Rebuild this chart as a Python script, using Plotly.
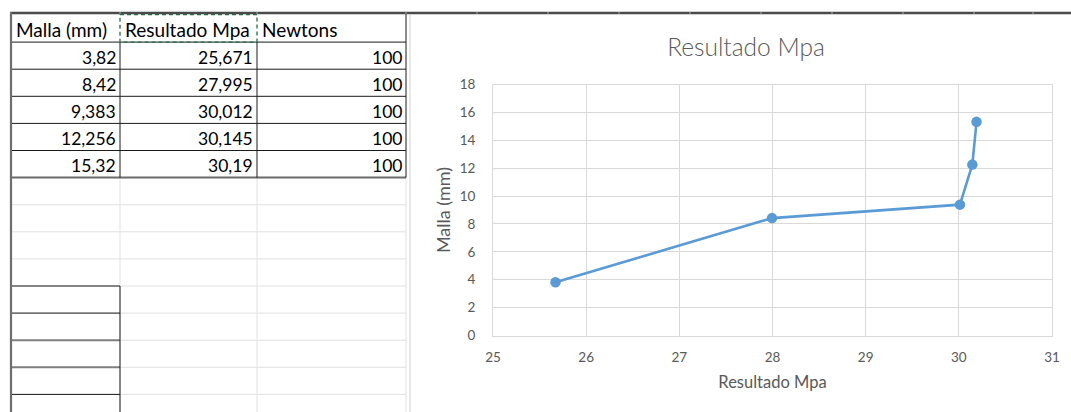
import plotly.graph_objects as go

# ---- worksheet values -------------------------------------------------------
headers = ["Malla (mm)", "Resultado Mpa", "Newtons"]
malla_mm = [3.82, 8.42, 9.383, 12.256, 15.32]
resultado_mpa = [25.671, 27.995, 30.012, 30.145, 30.19]
newtons = [100, 100, 100, 100, 100]

# ---- chart ticks --------------------------------------------------------------
x_ticks = [25, 26, 27, 28, 29, 30, 31]
y_ticks = [0, 2, 4, 6, 8, 10, 12, 14, 16, 18]

# ---- page geometry (screen pixels) -------------------------------------------
W, H = 1071, 412
COL_EDGES = [11, 120, 257, 406]
ROW_H = 27.1
N_ROWS = 15
ROW_EDGES = [14] + [15 + ROW_H * k for k in range(1, N_ROWS + 1)]
HEADER_SEPARATORS = [120, 257, 406, 477, 548, 619, 690, 761, 832, 903, 974, 1033]
CHART_LEFT = 410
PLOT_X0, PLOT_X1 = 493, 1052
PLOT_Y0, PLOT_Y1 = 84.5, 335.5

SHEET_FONT = "Lato, 'Open Sans', sans-serif"
HEADER_SIZE = 19
VALUE_SIZE = 17.5
CHART_GREY = "#595959"
GRID_GREY = "#d9d9d9"
SHEET_GRID = "#e1e1e1"


def fmt(v):
    """Spreadsheet-style number with a decimal comma."""
    return str(v).replace(".", ",")


def seg(x0, y0, x1, y1, color, width=1, dash=None):
    line = dict(color=color, width=width)
    if dash:
        line["dash"] = dash
    return dict(type="line", xref="x", yref="y", x0=x0, y0=y0, x1=x1, y1=y1,
                line=line, layer="above")


fig = go.Figure()

# ---- worksheet grid -------------------------------------------------------------
shapes = []
n_data = len(malla_mm)
data_bottom = ROW_EDGES[n_data + 1]

# faint gridlines below the filled block
for r in range(n_data + 2, N_ROWS + 1):
    shapes.append(seg(COL_EDGES[0], ROW_EDGES[r], COL_EDGES[-1], ROW_EDGES[r], SHEET_GRID))
for c in COL_EDGES[1:]:
    shapes.append(seg(c, data_bottom, c, H, SHEET_GRID))

# bordered block holding header + values
for r in range(1, n_data + 1):
    shapes.append(seg(COL_EDGES[0], ROW_EDGES[r], COL_EDGES[-1], ROW_EDGES[r], "#1a1a1a"))
shapes.append(seg(COL_EDGES[0], data_bottom, COL_EDGES[-1], data_bottom, "#6a6a6a", 2))
for c in COL_EDGES[1:3]:
    shapes.append(seg(c, ROW_EDGES[1], c, data_bottom, "#1a1a1a"))
shapes.append(seg(COL_EDGES[-1], ROW_EDGES[0], COL_EDGES[-1], data_bottom, "#1a1a1a"))

# bordered cells further down column A
lower_start = 10
for r in range(lower_start, N_ROWS):
    grey = r in (12, 13)
    shapes.append(seg(COL_EDGES[0], ROW_EDGES[r], COL_EDGES[1], ROW_EDGES[r],
                      "#7f7f7f" if grey else "#1a1a1a", 2 if grey else 1))
shapes.append(seg(COL_EDGES[1], ROW_EDGES[lower_start], COL_EDGES[1], H, "#1a1a1a"))

# copy marquee around the "Resultado Mpa" header cell
shapes.append(dict(type="rect", xref="x", yref="y",
                   x0=COL_EDGES[1], x1=COL_EDGES[2], y0=ROW_EDGES[0] + 0.5, y1=ROW_EDGES[1],
                   line=dict(color="#217346", width=1.3, dash="4px,3px"), layer="above"))

# frame: header bar across the top and row-header edge on the left
shapes.append(seg(10, 13, W, 13, "#4a4a4a", 2.4))
for s in HEADER_SEPARATORS:
    shapes.append(seg(s, 12, s, 14, "#9a9a9a", 1.2))
shapes.append(seg(11, 12, 11, H, "#6e6e6e", 2.2))

# embedded chart frame
shapes.append(seg(CHART_LEFT, 14, CHART_LEFT, H, GRID_GREY, 1.2))

# ---- cell texts -------------------------------------------------------------------
annotations = []
header_mid = (ROW_EDGES[0] + ROW_EDGES[1]) / 2 + 1
for c, label in enumerate(headers):
    annotations.append(dict(xref="x", yref="y", x=COL_EDGES[c] + 2.5, y=header_mid,
                            text=label, showarrow=False, xanchor="left", yanchor="middle",
                            font=dict(family=SHEET_FONT, size=HEADER_SIZE, color="#000000")))
columns = [malla_mm, resultado_mpa, newtons]
for c, values in enumerate(columns):
    for r, v in enumerate(values):
        mid = (ROW_EDGES[r + 1] + ROW_EDGES[r + 2]) / 2 + 1.5
        annotations.append(dict(xref="x", yref="y", x=COL_EDGES[c + 1] - 2, y=mid,
                                text=fmt(v), showarrow=False, xanchor="right", yanchor="middle",
                                font=dict(family=SHEET_FONT, size=VALUE_SIZE, color="#000000")))

# ---- scatter chart ----------------------------------------------------------------
fig.add_trace(go.Scatter(
    x=resultado_mpa, y=malla_mm, xaxis="x2", yaxis="y2",
    mode="lines+markers",
    line=dict(color="#5b9bd5", width=2.6),
    marker=dict(color="#5b9bd5", size=10.5),
    hoverinfo="skip", showlegend=False,
))

fig.update_layout(
    width=W, height=H,
    margin=dict(l=0, r=0, t=0, b=0, pad=0, autoexpand=False),
    paper_bgcolor="white",
    plot_bgcolor="rgba(0,0,0,0)",
    showlegend=False,
    shapes=shapes,
    annotations=annotations,
    title=dict(text="Resultado Mpa", x=746 / W, y=1 - 47 / H, xref="paper", yref="paper",
               xanchor="center", yanchor="middle", automargin=False,
               font=dict(family=SHEET_FONT, size=24.5, color=CHART_GREY, weight=300)),
    # worksheet canvas, measured in pixels
    xaxis=dict(domain=[0, 1], range=[0, W], visible=False, fixedrange=True),
    yaxis=dict(domain=[0, 1], range=[H, 0], visible=False, fixedrange=True),
    # chart axes
    xaxis2=dict(
        domain=[PLOT_X0 / W, PLOT_X1 / W], anchor="y2", range=[x_ticks[0], x_ticks[-1]],
        tickvals=x_ticks, showgrid=True, gridcolor=GRID_GREY, gridwidth=1,
        showline=True, linecolor=GRID_GREY, linewidth=1, mirror=True, zeroline=False,
        ticks="", ticklabelstandoff=9, automargin=False,
        tickfont=dict(family=SHEET_FONT, size=13.5, color=CHART_GREY),
        title=dict(text="Resultado Mpa", standoff=12,
                   font=dict(family=SHEET_FONT, size=16.5, color=CHART_GREY)),
    ),
    yaxis2=dict(
        domain=[1 - PLOT_Y1 / H, 1 - PLOT_Y0 / H], anchor="x2", range=[y_ticks[0], y_ticks[-1]],
        tickvals=y_ticks, showgrid=True, gridcolor=GRID_GREY, gridwidth=1,
        showline=True, linecolor=GRID_GREY, linewidth=1, mirror=True, zeroline=False,
        ticks="", ticklabelstandoff=14, automargin=False,
        tickfont=dict(family=SHEET_FONT, size=13.5, color=CHART_GREY),
        title=dict(text="Malla (mm)", standoff=4,
                   font=dict(family=SHEET_FONT, size=18, color=CHART_GREY)),
    ),
)

fig.write_html("out.html")
